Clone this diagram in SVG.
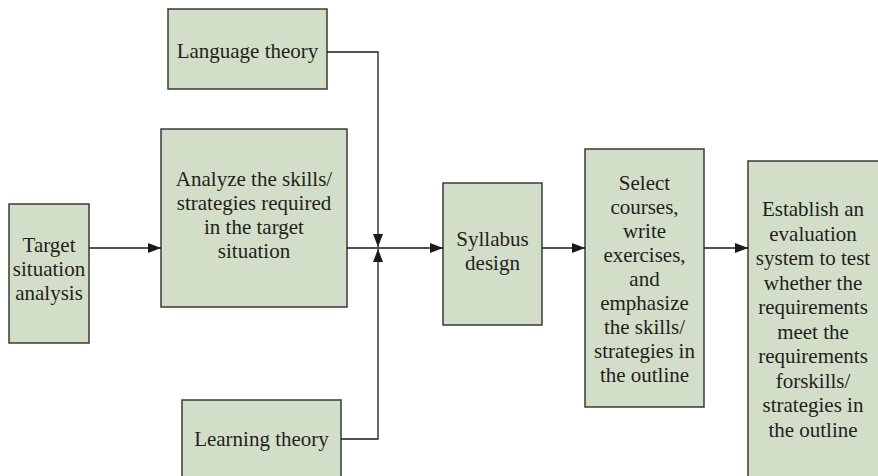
<svg xmlns="http://www.w3.org/2000/svg" width="878" height="476" viewBox="0 0 878 476">
  <defs>
    <marker id="arrow" viewBox="0 0 13 10" refX="13" refY="5" markerWidth="13" markerHeight="10" markerUnits="userSpaceOnUse" orient="auto">
      <path d="M0,0 L13,5 L0,10 Z" fill="#1a1a1a"/>
    </marker>
  </defs>
  <style>
    .box { fill: #d3dec8; stroke: #3a3a3a; stroke-width: 1.5; }
    .lbl { font-family: "Liberation Serif", "Times New Roman", serif; font-size: 21px; fill: #231f20; text-anchor: middle; }
    .conn { fill: none; stroke: #1a1a1a; stroke-width: 1.3; }
  </style>
  <rect width="878" height="476" fill="#ffffff"/>

  <g id="target-situation-analysis">
    <rect class="box" x="9" y="204" width="80" height="139"/>
    <text class="lbl" x="49" y="252">Target</text>
    <text class="lbl" x="49" y="276">situation</text>
    <text class="lbl" x="49" y="300">analysis</text>
  </g>

  <g id="language-theory">
    <rect class="box" x="168" y="9" width="159" height="80"/>
    <text class="lbl" x="247.5" y="58">Language theory</text>
  </g>

  <g id="analyze-skills">
    <rect class="box" x="161" y="129" width="186" height="178"/>
    <text class="lbl" x="254" y="186">Analyze the skills/</text>
    <text class="lbl" x="254" y="210">strategies required</text>
    <text class="lbl" x="254" y="234">in the target</text>
    <text class="lbl" x="254" y="258">situation</text>
  </g>

  <g id="learning-theory">
    <rect class="box" x="182" y="400" width="159" height="90"/>
    <text class="lbl" x="261.5" y="446">Learning theory</text>
  </g>

  <g id="syllabus-design">
    <rect class="box" x="443" y="183" width="99" height="142"/>
    <text class="lbl" x="492.5" y="246">Syllabus</text>
    <text class="lbl" x="492.5" y="270">design</text>
  </g>

  <g id="select-courses">
    <rect class="box" x="585" y="149" width="119" height="258"/>
    <text class="lbl" x="644.5" y="190">Select</text>
    <text class="lbl" x="644.5" y="214">courses,</text>
    <text class="lbl" x="644.5" y="238">write</text>
    <text class="lbl" x="644.5" y="262">exercises,</text>
    <text class="lbl" x="644.5" y="286">and</text>
    <text class="lbl" x="644.5" y="310">emphasize</text>
    <text class="lbl" x="644.5" y="334">the skills/</text>
    <text class="lbl" x="644.5" y="358">strategies in</text>
    <text class="lbl" x="644.5" y="382">the outline</text>
  </g>

  <g id="evaluation-system">
    <rect class="box" x="748" y="161" width="145" height="330"/>
    <text class="lbl" x="813" y="216">Establish an</text>
    <text class="lbl" x="813" y="240.5">evaluation</text>
    <text class="lbl" x="813" y="265">system to test</text>
    <text class="lbl" x="813" y="289.5">whether the</text>
    <text class="lbl" x="813" y="314">requirements</text>
    <text class="lbl" x="813" y="338.5">meet the</text>
    <text class="lbl" x="813" y="363">requirements</text>
    <text class="lbl" x="813" y="387.5">forskills/</text>
    <text class="lbl" x="813" y="412">strategies in</text>
    <text class="lbl" x="813" y="436.5">the outline</text>
  </g>

  <g id="connectors">
    <path class="conn" d="M89,248 H161" marker-end="url(#arrow)"/>
    <path class="conn" d="M347,248 H443" marker-end="url(#arrow)"/>
    <path class="conn" d="M327,52 H378 V247" marker-end="url(#arrow)"/>
    <path class="conn" d="M341,439 H378 V249" marker-end="url(#arrow)"/>
    <path class="conn" d="M542,248 H585" marker-end="url(#arrow)"/>
    <path class="conn" d="M704,248 H748" marker-end="url(#arrow)"/>
  </g>
</svg>
